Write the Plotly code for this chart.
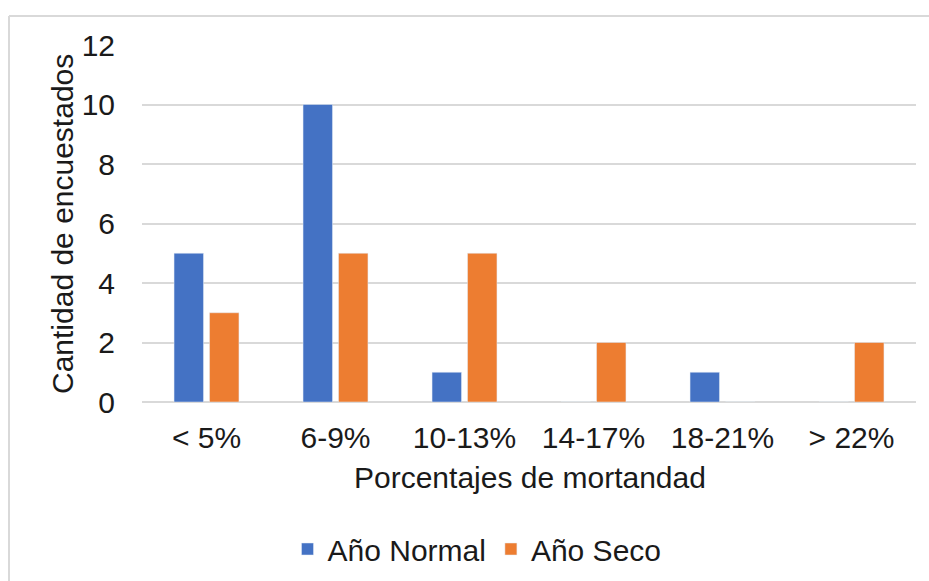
import plotly.graph_objects as go

categories = ["< 5%", "6-9%", "10-13%", "14-17%", "18-21%", "> 22%"]
normal = [5, 10, 1, 0, 1, 0]
seco = [3, 5, 5, 2, 0, 2]
y_ticks = [0, 2, 4, 6, 8, 10, 12]

W, H = 929, 581
L, R, T, B = 142, 13, 45, 179
pw, ph = W - L - R, H - T - B
def px(x): return (x - L) / pw
def py(y): return (H - B - y) / ph

FONT = "Liberation Sans, Arial, sans-serif"
TXT = "#1a1a1a"
FS = 30

fig = go.Figure()
fig.add_trace(go.Bar(x=categories, y=normal, name="Año Normal", marker_color="#4472C4"))
fig.add_trace(go.Bar(x=categories, y=seco, name="Año Seco", marker_color="#ED7D31"))

fig.update_layout(
    width=W, height=H,
    margin=dict(l=L, r=R, t=T, b=B, autoexpand=False),
    paper_bgcolor="white", plot_bgcolor="white",
    barmode="group", bargap=0.45, bargroupgap=0.17,
    font=dict(family=FONT, size=FS, color=TXT),
    showlegend=True,
    legend=dict(orientation="h", x=px(477), xanchor="center", y=py(549), yanchor="middle",
                font=dict(size=FS, color=TXT), itemwidth=30, traceorder="normal"),
    xaxis=dict(showgrid=False, showline=False, ticks="", ticklabelstandoff=15,
               tickfont=dict(size=FS, color=TXT)),
    yaxis=dict(range=[0, 12], tickvals=y_ticks, showgrid=True, gridcolor="#d9d9d9", gridwidth=1.5,
               zeroline=True, zerolinecolor="#d9d9d9", zerolinewidth=1.5,
               showline=False, ticks="", ticklabelstandoff=26, tickfont=dict(size=FS, color=TXT)),
    annotations=[
        dict(text="Porcentajes de mortandad", xref="paper", yref="paper", x=px(530), y=py(478),
             xanchor="center", yanchor="middle", showarrow=False, font=dict(size=FS, color=TXT)),
        dict(text="Cantidad de encuestados", xref="paper", yref="paper", x=px(62), y=py(224),
             xanchor="center", yanchor="middle", textangle=-90, showarrow=False,
             font=dict(size=FS, color=TXT)),
    ],
    shapes=[
        dict(type="line", xref="paper", yref="paper", x0=px(9), x1=px(929), y0=py(16), y1=py(16),
             line=dict(color="#d9d9d9", width=2)),
        dict(type="line", xref="paper", yref="paper", x0=px(9), x1=px(9), y0=py(16), y1=py(581),
             line=dict(color="#d9d9d9", width=2)),
    ],
)

fig.write_html("out.html", config={"displayModeBar": False},
               post_script="document.body.style.margin='0';document.body.style.overflow='hidden';")
